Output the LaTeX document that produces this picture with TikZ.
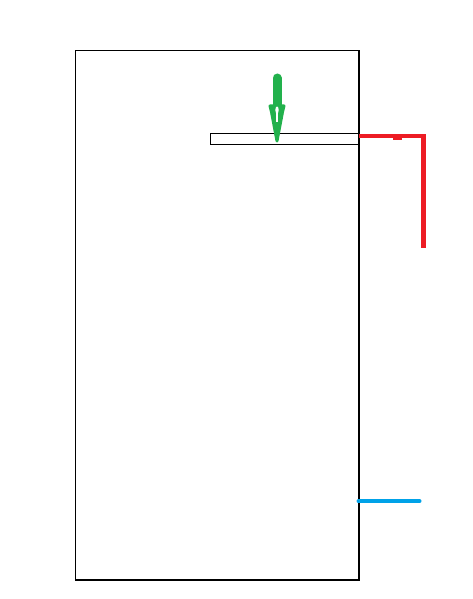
\documentclass[tikz,border=0pt]{standalone}
\definecolor{pgreen}{HTML}{22B14C}
\definecolor{pred}{HTML}{ED1C24}
\definecolor{pblue}{HTML}{00A2E8}
\begin{document}
\begin{tikzpicture}[x=1pt,y=-1pt,
  outline/.style={draw=black,line width=1.3pt},
  redline/.style={draw=pred,line width=4.5pt},
  blueline/.style={draw=pblue,line width=4pt,line cap=round},
  greenline/.style={draw=pgreen,line width=9pt,line cap=round},
  greenhead/.style={draw=pgreen,fill=pgreen,line width=3pt,line join=round}]
\useasboundingbox (0,0) rectangle (472,599);
% tank
\draw[outline] (75.5,50.5) rectangle (359,580);
\draw[outline] (210.3,133.3) rectangle (359,144.3);
% green arrow
\coordinate (gs) at (277,78);
\coordinate (ge) at (277,107);
\draw[greenline] (gs) -- (ge);
\draw[greenhead] (270,106) -- (284,106) -- (282.5,112) -- (277,141) -- (271.5,112) -- cycle;
\fill[white] (277,110) ellipse (1.7 and 3.5);
\fill[white] (276,113) rectangle (278,122);
% red pipe
\coordinate (r0) at (359,136);
\coordinate (r1) at (423.5,136);
\coordinate (r2) at (423.5,248);
\draw[redline] (r0) -- (r1) -- (r2);
\fill[pred] (393,136) rectangle (402,139.5);
% blue pipe
\coordinate (b0) at (358.5,501.3);
\coordinate (b1) at (419.5,501.3);
\draw[blueline] (b0) -- (b1);
\end{tikzpicture}
\end{document}
